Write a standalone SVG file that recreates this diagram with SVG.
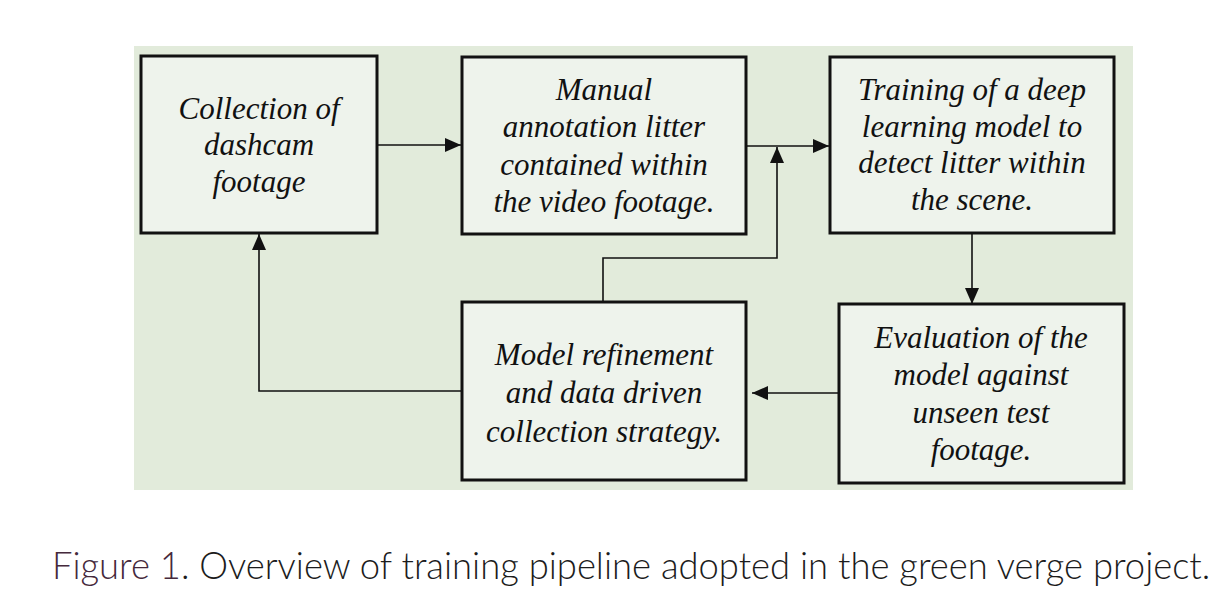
<svg xmlns="http://www.w3.org/2000/svg" width="1221" height="599" viewBox="0 0 1221 599">
<style>
.box{fill:#eef3ec;stroke:#111;stroke-width:3}
.t{font-family:"Liberation Serif","Times New Roman",serif;font-style:italic;font-size:31px;fill:#111;text-anchor:middle}
.c{fill:none;stroke:#111;stroke-width:1.6}
.cap{font-family:Lato,"Open Sans",sans-serif;font-weight:300;font-size:36.4px;fill:#1c1c1c}
</style>
<defs>
<marker id="ah" markerUnits="userSpaceOnUse" markerWidth="17" markerHeight="14" refX="16" refY="7" orient="auto">
<path d="M0,0 L16,7 L0,14 z" fill="#111"/>
</marker>
</defs>
<rect x="134" y="46" width="999" height="444" fill="#e2ebdb"/>
<g id="connectors">
<path class="c" d="M378,145 H461" marker-end="url(#ah)"/>
<path class="c" d="M746,146 H829" marker-end="url(#ah)"/>
<path class="c" d="M603,302 V258 H777 V147" marker-end="url(#ah)"/>
<path class="c" d="M972,234 V304" marker-end="url(#ah)"/>
<path class="c" d="M839,393 H752" marker-end="url(#ah)"/>
<path class="c" d="M462,391 H259 V234" marker-end="url(#ah)"/>
</g>
<g id="n1">
<rect class="box" x="141" y="56" width="236" height="177"/>
<text class="t" x="259" y="119">Collection of</text>
<text class="t" x="259" y="155">dashcam</text>
<text class="t" x="259" y="192">footage</text>
</g>
<g id="n2">
<rect class="box" x="462" y="57" width="284" height="177"/>
<text class="t" x="604" y="100">Manual</text>
<text class="t" x="604" y="137">annotation litter</text>
<text class="t" x="604" y="175">contained within</text>
<text class="t" x="604" y="212">the video footage.</text>
</g>
<g id="n3">
<rect class="box" x="830" y="57" width="284" height="176"/>
<text class="t" x="972" y="100">Training of a deep</text>
<text class="t" x="972" y="137">learning model to</text>
<text class="t" x="972" y="173">detect litter within</text>
<text class="t" x="972" y="210">the scene.</text>
</g>
<g id="n4">
<rect class="box" x="839" y="304" width="285" height="179"/>
<text class="t" x="981" y="348">Evaluation of the</text>
<text class="t" x="981" y="385">model against</text>
<text class="t" x="981" y="423">unseen test</text>
<text class="t" x="981" y="460">footage.</text>
</g>
<g id="n5">
<rect class="box" x="462" y="302" width="284" height="178"/>
<text class="t" x="604" y="365">Model refinement</text>
<text class="t" x="604" y="403">and data driven</text>
<text class="t" x="604" y="442">collection strategy.</text>
</g>
<text class="cap" x="52" y="579"><tspan fill="#45293c">Figure 1</tspan>. Overview of training pipeline adopted in the green verge project.</text>
</svg>
